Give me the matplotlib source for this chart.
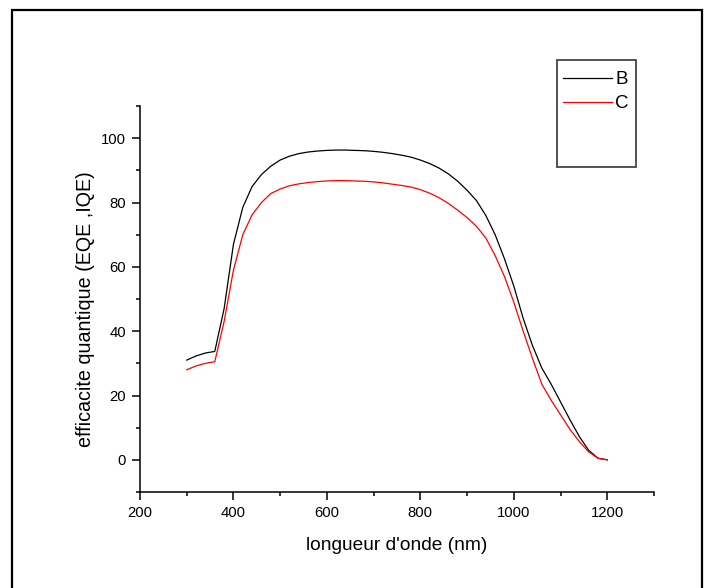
import matplotlib
matplotlib.use("Agg")
import matplotlib.pyplot as plt
from matplotlib.patches import Rectangle
from matplotlib.ticker import MultipleLocator

plt.rcParams['font.family'] = ['Liberation Sans', 'DejaVu Sans']

wavelength = [300, 320, 340, 360, 380, 400, 420, 440, 460, 480, 500, 520, 540, 560,
              580, 600, 620, 640, 660, 680, 700, 720, 740, 760, 780, 800, 820, 840,
              860, 880, 900, 920, 940, 960, 980, 1000, 1020, 1040, 1060, 1080, 1100,
              1120, 1140, 1160, 1180, 1200]

series_B = [31.0, 32.3, 33.2, 33.7, 47.0, 67.0, 78.5, 85.0, 88.7, 91.3, 93.2, 94.4,
            95.2, 95.7, 96.0, 96.2, 96.3, 96.3, 96.2, 96.1, 95.9, 95.6, 95.2, 94.7,
            94.1, 93.2, 92.1, 90.7, 88.9, 86.6, 83.8, 80.6, 76.0, 70.0, 62.5, 54.0,
            44.0, 35.5, 28.5, 23.5, 18.0, 12.5, 7.3, 3.0, 0.5, 0.0]

series_C = [28.0, 29.2, 30.0, 30.5, 43.0, 59.0, 70.0, 76.2, 80.0, 82.8, 84.2, 85.2,
            85.8, 86.2, 86.5, 86.7, 86.8, 86.8, 86.7, 86.6, 86.4, 86.1, 85.7, 85.3,
            84.8, 84.0, 82.9, 81.5, 79.7, 77.6, 75.3, 72.6, 69.0, 63.5, 57.0, 49.0,
            40.0, 31.5, 23.5, 18.5, 14.0, 9.5, 5.7, 2.5, 0.5, 0.0]

labels = ['B', 'C']
colors = ['black', 'red']

W, H = 712, 588
fig = plt.figure(figsize=(W / 100, H / 100), dpi=100)
ax = fig.add_axes([140 / W, 1 - 492 / H, (654 - 140) / W, (492 - 106) / H])

lines = []
for ys, lab, col in zip([series_B, series_C], labels, colors):
    ln, = ax.plot(wavelength, ys, color=col, lw=0.9, label=lab)
    lines.append(ln)

ax.set_xlim(200, 1300)
ax.set_ylim(-10, 110)
ax.xaxis.set_minor_locator(MultipleLocator(100))
ax.yaxis.set_minor_locator(MultipleLocator(10))
ax.spines['top'].set_visible(False)
ax.spines['right'].set_visible(False)
for s in ['left', 'bottom']:
    ax.spines[s].set_linewidth(1.1)
ax.tick_params(which='major', direction='out', length=5.5, width=1.1, labelsize=10.7, pad=4.5)
ax.tick_params(which='minor', direction='out', length=3, width=1.1)
ax.set_xticks([200, 400, 600, 800, 1000, 1200])
ax.set_xticklabels(['200', '400', '600', '800', '1000', '1200'])
ax.set_yticks([0, 20, 40, 60, 80, 100])

ax.set_xlabel("longueur d'onde (nm)", fontsize=13.8, labelpad=12.5)
ax.set_ylabel("efficacite quantique (EQE ,IQE)", fontsize=14.2)
ax.yaxis.set_label_coords(-0.088, 0.473)

# legend frame and entries
fig.add_artist(Rectangle((557 / W, 1 - 167 / H), (636 - 557) / W, (167 - 60) / H,
                         transform=fig.transFigure, fill=False, edgecolor='#444444', lw=1.3))
fig.legend(handles=lines, labels=labels, loc='upper left',
           bbox_to_anchor=(563 / W, 1 - 71 / H), frameon=False, fontsize=13.5,
           handlelength=2.6, handletextpad=0.2, labelspacing=0.38, borderpad=0.0,
           borderaxespad=0.0)

# outer border
fig.add_artist(Rectangle((12 / W, -0.05), (702 - 12) / W, 1.05 - 10 / H,
                         transform=fig.transFigure, fill=False, edgecolor='black', lw=1.6))

fig.savefig('out.png', dpi=100)
